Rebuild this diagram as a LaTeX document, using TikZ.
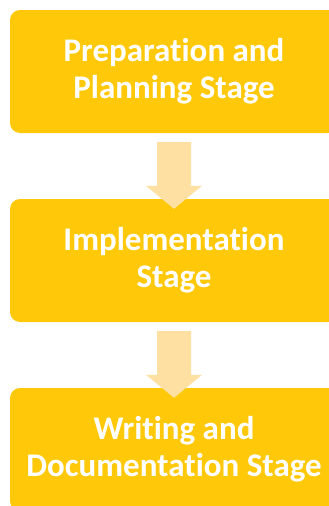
\documentclass[tikz,border=0pt]{standalone}
\usepackage{fontspec}
\setmainfont{Carlito}[Ligatures=NoCommon]
\usetikzlibrary{calc}
\definecolor{stagey}{HTML}{FFC90A}
\definecolor{arrowy}{HTML}{FFE0A3}
\tikzset{
  stagebox/.style={fill=stagey, rounded corners=10pt, minimum width=328pt, minimum height=123pt,
    text=white, font=\fontsize{33}{37}\selectfont\bfseries, align=center, inner sep=0pt},
  downarrow/.style={fill=arrowy}
}
\begin{document}
\begin{tikzpicture}[x=1pt,y=1pt]
\useasboundingbox (0,0) rectangle (329,-506);
\clip (0,0) rectangle (329,-506);
\node[stagebox] (b1) at (174,-71.5) {Preparation and\\Planning Stage};
\node[stagebox] (b2) at (174,-260.5) {Implementation\\Stage};
\node[stagebox] (b3) at (174,-449.5) {Writing and\\Documentation Stage};
\foreach \a/\b in {b1/b2,b2/b3}{
  \coordinate (t) at ($(\a.south)+(0,-9)$);
  \coordinate (h) at ($(\b.north)+(0,-10)$);
  \fill[downarrow] ($(t)+(-17,0)$) -- ($(t)+(17,0)$) -- ($(h)+(17,23)$) -- ($(h)+(28,23)$)
    -- (h) -- ($(h)+(-28,23)$) -- ($(h)+(-17,23)$) -- cycle;
}
\end{tikzpicture}
\end{document}
